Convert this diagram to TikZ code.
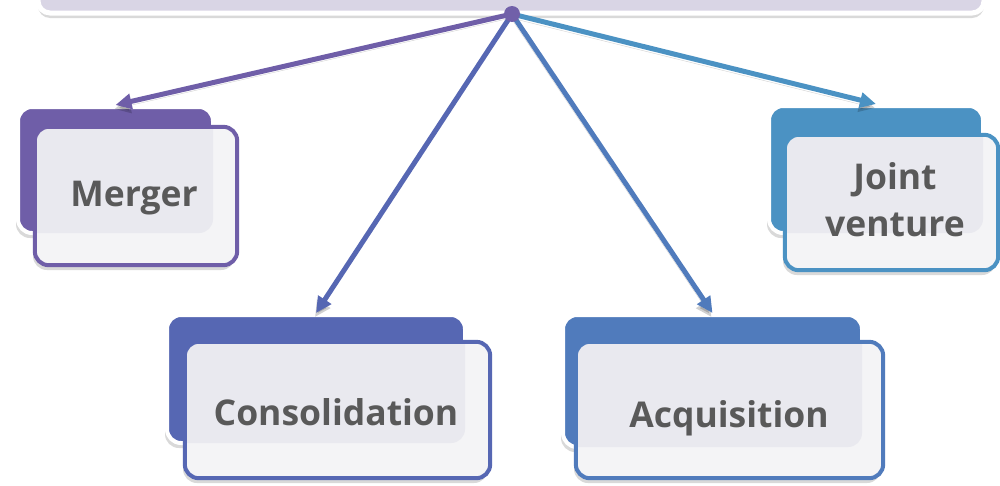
\documentclass[tikz,border=0pt]{standalone}
\usepackage{fontspec}
\setmainfont{Open Sans}
\usetikzlibrary{arrows.meta,shadows}
\definecolor{cMer}{HTML}{6F5EA8}
\definecolor{cCon}{HTML}{5667B3}
\definecolor{cAcq}{HTML}{507BBC}
\definecolor{cJoi}{HTML}{4B92C3}
\definecolor{topfill}{HTML}{D9D5E5}
\definecolor{lightA}{HTML}{E9E9EF}
\definecolor{lightB}{HTML}{F4F4F6}
\definecolor{txt}{HTML}{595959}
\definecolor{hubc}{HTML}{7160A9}
\tikzset{
  shd/.style={drop shadow={opacity=0.3, shadow xshift=-2pt, shadow yshift=-5pt}},
  backbox/.style={draw=white, line width=4pt, rounded corners=14pt, fill=#1, inner sep=0pt, shd},
  frontbox/.style={fill=lightB, draw=none, rounded corners=14pt, inner sep=0pt, shd},
  frontline/.style={draw=#1, line width=4pt, rounded corners=14pt},
  lbl/.style={text=txt, font=\fontsize{35.5}{47}\selectfont\bfseries, align=center, inner sep=0pt},
  arr/.style={draw=#1, line width=5pt, -{Triangle[length=16pt,width=15pt]},
     preaction={draw=black, opacity=0.18, transform canvas={shift={(-1pt,-4pt)}}}},
  topbox/.style={fill=topfill, draw=white, line width=5pt, rounded corners=12pt, inner sep=0pt,
     drop shadow={opacity=0.3, shadow xshift=0pt, shadow yshift=-5pt}},
}
\begin{document}
\begin{tikzpicture}[x=1pt,y=-1pt]
\useasboundingbox (0,0) rectangle (1000,485);
% top box
\node[topbox, minimum width=946pt, minimum height=36pt] (top) at (511,-5) {};
% back boxes
\node[backbox=cMer, minimum width=195pt, minimum height=126pt] (mb) at (115.5,170) {};
\node[backbox=cJoi, minimum width=214pt, minimum height=127pt] (jb) at (876,169.5) {};
\node[backbox=cCon, minimum width=298pt, minimum height=128pt] (cb) at (316,379) {};
\node[backbox=cAcq, minimum width=299pt, minimum height=132pt] (ab) at (712.5,381) {};
% front boxes
\node[frontbox, minimum width=202pt, minimum height=138pt] (mf) at (136,196) {};
\node[frontbox, minimum width=213pt, minimum height=135pt] (jf) at (891.5,202.5) {};
\node[frontbox, minimum width=305pt, minimum height=136pt] (cf) at (337.5,410) {};
\node[frontbox, minimum width=307pt, minimum height=136pt] (af) at (729.5,410) {};
% overlap tint
\foreach \f/\b in {mf/mb, jf/jb, cf/cb, af/ab}{
  \begin{scope}
    \clip[rounded corners=14pt] (\f.south west) rectangle (\f.north east);
    \fill[lightA, rounded corners=14pt] ([shift={(2pt,2pt)}]\b.south west) rectangle ([shift={(-2pt,-2pt)}]\b.north east);
  \end{scope}
}
% front borders
\draw[frontline=cMer] (mf.south west) rectangle (mf.north east);
\draw[frontline=cJoi] (jf.south west) rectangle (jf.north east);
\draw[frontline=cCon] (cf.south west) rectangle (cf.north east);
\draw[frontline=cAcq] (af.south west) rectangle (af.north east);
% labels
\node[lbl] (mt) at (134,198) {Merger};
\node[lbl] (jt) at (895,200) {Joint\\venture};
\node[lbl] (ct) at (336,412) {Consolidation};
\node[lbl] (at) at (729,418) {Acquisition};
% hub and arrows
\coordinate (hub) at (512,14);
\draw[arr=cMer] (hub) -- (mb.north);
\draw[arr=cCon] (hub) -- (cb.north);
\draw[arr=cAcq] (hub) -- (ab.north);
\draw[arr=cJoi] (hub) -- (jb.north);
\node[circle, fill=hubc, minimum size=16pt, inner sep=0pt] (hubdot) at (hub) {};
\end{tikzpicture}
\end{document}
